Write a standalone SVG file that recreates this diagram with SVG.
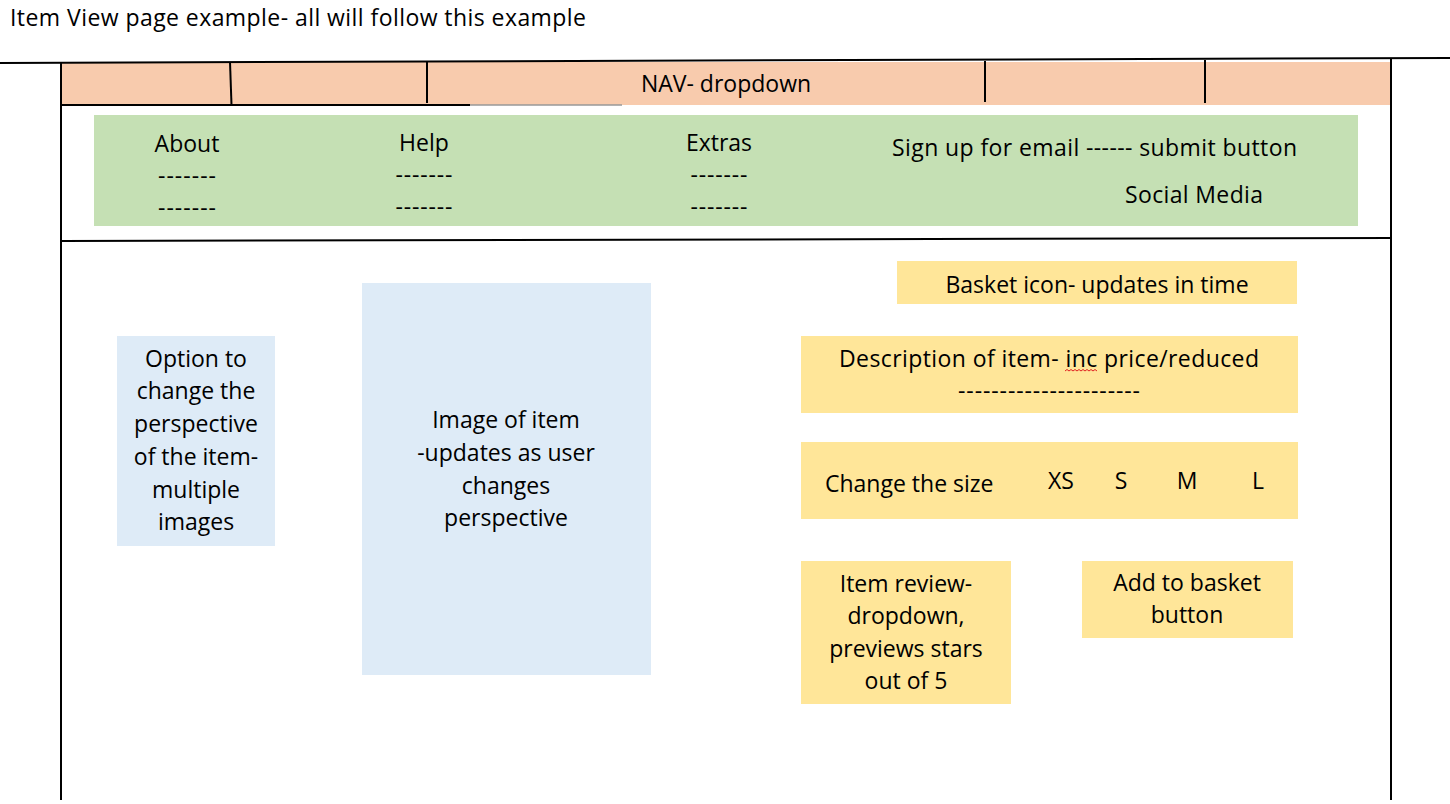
<svg xmlns="http://www.w3.org/2000/svg" width="1450" height="804" viewBox="0 0 1450 804">
<style>
text{font-family:"Open Sans","Noto Sans","Liberation Sans",sans-serif;font-size:23px;fill:#000}
.c{text-anchor:middle}
.ln{stroke:#000;stroke-width:2;fill:none}
.nav{fill:#F8CBAD}
.grn{fill:#C5E0B4}
.yel{fill:#FFE699}
.blu{fill:#DEEBF7}
</style>
<rect width="1450" height="804" fill="#fff"/>
<text x="10" y="26" textLength="576">Item View page example- all will follow this example</text>
<g id="nav">
<rect class="nav" x="61" y="62" width="1330" height="43"/>
<text class="c" x="726" y="92">NAV- dropdown</text>
</g>
<g id="lines">
<line class="ln" x1="0" y1="63" x2="1450" y2="58"/>
<line class="ln" x1="61" y1="62" x2="61" y2="800"/>
<line class="ln" x1="1391" y1="58" x2="1391" y2="800"/>
<line class="ln" x1="61" y1="105" x2="470" y2="105"/>
<line x1="470" y1="105" x2="622" y2="105" stroke="#999" stroke-width="1.5"/>
<line class="ln" x1="230" y1="62" x2="231.5" y2="105"/>
<line class="ln" x1="427" y1="62" x2="427" y2="103"/>
<line class="ln" x1="985" y1="61" x2="985" y2="102"/>
<line class="ln" x1="1205" y1="60" x2="1205" y2="103"/>
<line class="ln" x1="61" y1="241" x2="1391" y2="238"/>
</g>
<g id="footer">
<rect class="grn" x="94" y="115" width="1264" height="111"/>
<text class="c" x="187" y="152">About</text>
<text class="c" x="187" y="184" textLength="58">-------</text>
<text class="c" x="187" y="216" textLength="58">-------</text>
<text class="c" x="424" y="151">Help</text>
<text class="c" x="424" y="183" textLength="57">-------</text>
<text class="c" x="424" y="215" textLength="57">-------</text>
<text class="c" x="719" y="151">Extras</text>
<text class="c" x="719" y="183" textLength="57">-------</text>
<text class="c" x="719" y="215" textLength="57">-------</text>
<text x="892" y="156" textLength="405">Sign up for email ------ submit button</text>
<text x="1125" y="203" textLength="138">Social Media</text>
</g>
<g id="basket-icon">
<rect class="yel" x="897" y="261" width="400" height="43"/>
<text class="c" x="1097" y="293">Basket icon- updates in time</text>
</g>
<g id="description">
<rect class="yel" x="801" y="336" width="497" height="77"/>
<text x="839" y="367" textLength="420">Description of item- inc price/reduced</text>
<text class="c" x="1049" y="399" textLength="182">----------------------</text>
<path d="M1065 371 l2 -1.5 l2 1.5 l2 -1.5 l2 1.5 l2 -1.5 l2 1.5 l2 -1.5 l2 1.5 l2 -1.5 l2 1.5 l2 -1.5 l2 1.5 l2 -1.5 l2 1.5 l2 -1.5 l2 1.5" stroke="#E02020" stroke-width="1" fill="none"/>
</g>
<g id="size">
<rect class="yel" x="801" y="442" width="497" height="77"/>
<text x="825" y="492">Change the size</text>
<text class="c" x="1061" y="489">XS</text>
<text class="c" x="1121" y="489">S</text>
<text class="c" x="1187" y="489">M</text>
<text class="c" x="1258" y="489">L</text>
</g>
<g id="review">
<rect class="yel" x="801" y="561" width="210" height="143"/>
<text class="c" x="906" y="592">Item review-</text>
<text class="c" x="906" y="624">dropdown,</text>
<text class="c" x="906" y="657">previews stars</text>
<text class="c" x="906" y="689">out of 5</text>
</g>
<g id="add-to-basket">
<rect class="yel" x="1082" y="561" width="211" height="77"/>
<text class="c" x="1187" y="591">Add to basket</text>
<text class="c" x="1187" y="623">button</text>
</g>
<g id="perspective-option">
<rect class="blu" x="117" y="336" width="158" height="210"/>
<text class="c" x="196" y="367">Option to</text>
<text class="c" x="196" y="399">change the</text>
<text class="c" x="196" y="432">perspective</text>
<text class="c" x="196" y="465">of the item-</text>
<text class="c" x="196" y="498">multiple</text>
<text class="c" x="196" y="530">images</text>
</g>
<g id="item-image">
<rect class="blu" x="362" y="283" width="289" height="392"/>
<text class="c" x="506" y="428">Image of item</text>
<text class="c" x="506" y="461">-updates as user</text>
<text class="c" x="506" y="494">changes</text>
<text class="c" x="506" y="526">perspective</text>
</g>
</svg>
